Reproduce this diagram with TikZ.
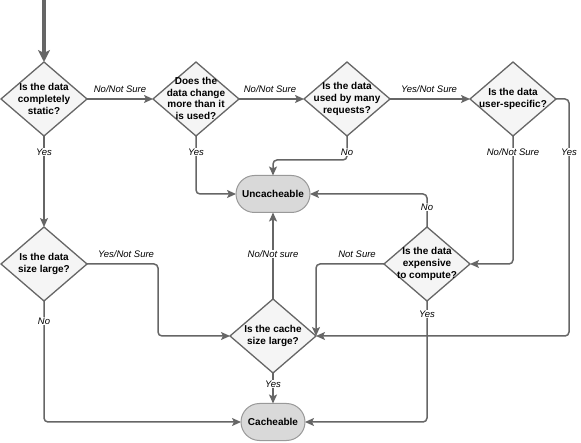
\documentclass[tikz,border=0pt]{standalone}
\usepackage{fontspec}
\setmainfont{Liberation Sans}
\usetikzlibrary{shapes.geometric,shapes.misc,arrows.meta}
\definecolor{lc}{HTML}{666666}
\definecolor{dfill}{HTML}{F5F5F5}
\definecolor{tfill}{HTML}{D9D9D9}
\definecolor{tline}{HTML}{999999}
\begin{document}
\begin{tikzpicture}[x=1pt,y=-1pt,
  dia/.style={diamond, draw=lc, fill=dfill, line width=1.3pt, minimum width=86pt, minimum height=74pt, inner sep=0pt, outer sep=0pt},
  qtxt/.style={align=center, font=\fontsize{10}{11.7}\selectfont\bfseries, inner sep=0pt},
  term/.style={rounded rectangle, draw=tline, fill=tfill, line width=1pt, minimum height=37pt, inner sep=0pt, outer sep=0pt, font=\fontsize{10}{12}\selectfont\bfseries},
  lbl/.style={font=\fontsize{9.5}{11}\selectfont\itshape, fill=white, inner sep=1pt},
  conn/.style={draw=lc, line width=1.5pt, rounded corners=4pt, -{Stealth[length=9pt,width=8pt,inset=2pt]}}
]
\useasboundingbox (0,0) rectangle (581,443);
% nodes
\node[dia] (d1) at (44,99) {};
\node[qtxt] (t1) at (d1) {Is the data\\completely\\static?};
\node[dia] (d2) at (196,99) {};
\node[qtxt] (t2) at (196,98.5) {Does the\\data change\\more than it\\is used?};
\node[dia] (d3) at (347,99) {};
\node[qtxt] (t3) at (d3) {Is the data\\used by many\\requests?};
\node[dia] (d4) at (513,99) {};
\node[qtxt] (t4) at (d4) {Is the data\\user-specific?};
\node[dia] (d5) at (44,264) {};
\node[qtxt] (t5) at (d5) {Is the data\\size large?};
\node[dia] (d6) at (273,336) {};
\node[qtxt] (t6) at (d6) {Is the cache\\size large?};
\node[dia] (d7) at (427,264) {};
\node[qtxt] (t7) at (d7) {Is the data\\expensive\\to compute?};
\node[term, minimum width=74pt] (unc) at (273,194) {Uncacheable};
\node[term, minimum width=64pt] (cach) at (273,422) {Cacheable};
\coordinate (start) at (44,0);
\coordinate (c3) at (273,160);
\coordinate (c4) at (569,200);
\coordinate (c5) at (158,300);
% connectors
\draw[conn, line width=3.5pt, -{Stealth[length=12pt,width=12pt,inset=3pt]}] (start) -- (d1.north);
\draw[conn] (d1.east) -- (d2.west);
\draw[conn] (d2.east) -- (d3.west);
\draw[conn] (d3.east) -- (d4.west);
\draw[conn] (d1.south) -- (d5.north);
\draw[conn] (d2.south) |- (unc.west);
\draw[conn] (d3.south) |- (c3) -- (unc.north);
\draw[conn] (d4.south) |- (d7.east);
\draw[conn] (d4.east) -| (c4) |- (d6.east);
\draw[conn] (d7.north) |- (unc.east);
\draw[conn] (d7.west) -| (d6.east);
\draw[conn] (d7.south) |- (cach.east);
\draw[conn] (d5.east) -| (c5) |- (d6.west);
\draw[conn] (d5.south) |- (cach.west);
\draw[conn] (d6.north) -- (unc.south);
\draw[conn] (d6.south) -- (cach.north);
% labels
\node[lbl] (l1) at (120,89) {No/Not Sure};
\node[lbl] (l2) at (270,89) {No/Not Sure};
\node[lbl] (l3) at (429,89) {Yes/Not Sure};
\node[lbl] (l4) at (44,152) {Yes};
\node[lbl] (l5) at (196,152) {Yes};
\node[lbl] (l6) at (347,152) {No};
\node[lbl] (l7) at (513,152) {No/Not Sure};
\node[lbl] (l8) at (569,152) {Yes};
\node[lbl] (l9) at (427,207) {No};
\node[lbl] (l10) at (357,254) {Not Sure};
\node[lbl] (l11) at (427,314) {Yes};
\node[lbl] (l12) at (126,254) {Yes/Not Sure};
\node[lbl] (l13) at (44,321) {No};
\node[lbl] (l14) at (273,254) {No/Not sure};
\node[lbl] (l15) at (273,384) {Yes};
\end{tikzpicture}
\end{document}
